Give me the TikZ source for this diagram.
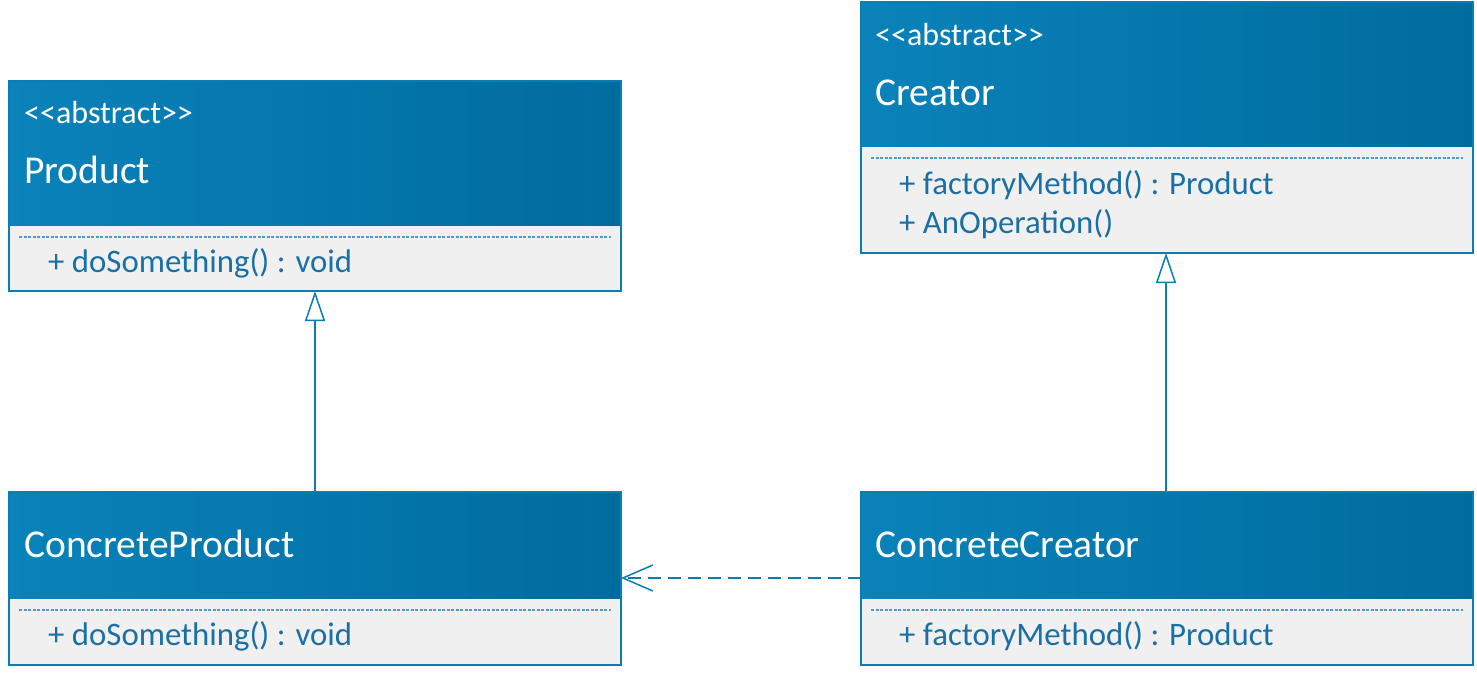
\documentclass[tikz,border=0pt]{standalone}
\usepackage{fontspec}
\setmainfont{Carlito}
\usetikzlibrary{arrows.meta}
\definecolor{hdrL}{HTML}{0A82BA}
\definecolor{hdrR}{HTML}{006C9E}
\definecolor{edgec}{HTML}{0A7DB4}
\definecolor{bodyfill}{HTML}{F0F0F0}
\definecolor{membertxt}{HTML}{1A70A4}
\definecolor{dotc}{HTML}{4E9DC6}
\tikzset{
  classbox/.style={rectangle, inner sep=0pt, outer sep=0pt, anchor=north west},
  hdrshade/.style={left color=hdrL, right color=hdrR},
  outline/.style={draw=edgec, line width=2.5pt},
  stereo/.style={text=white, font=\fontsize{32}{34}\selectfont, anchor=base west, inner sep=0pt},
  cname/.style={text=white, font=\fontsize{39.5}{42}\selectfont, anchor=base west, inner sep=0pt},
  member/.style={text=membertxt, font=\fontsize{32.8}{35}\selectfont, anchor=base west, inner sep=0pt},
  sepline/.style={dotc, line width=1.2pt, dash pattern=on 3pt off 1.5pt},
  inherit/.style={edgec, line width=1.5pt, -{Triangle[open, length=30pt, width=20pt, fill=white]}},
  depend/.style={edgec, line width=1.5pt, dash pattern=on 13pt off 7pt, -{Straight Barb[length=30pt, width=26pt]}}
}
\newcommand\stereotxt{<\kern0pt<abstract>\kern0pt>}
% #1 name, #2 x1, #3 y1, #4 x2, #5 y2, #6 header bottom, #7 separator y
\newcommand\umlclass[7]{%
  \node[classbox, minimum width=#4pt-#2pt, minimum height=#5pt-#3pt] (#1) at (#2,#3) {};
  \fill[bodyfill] (#2,#3) rectangle (#4,#5);
  \shade[hdrshade] (#2,#3) rectangle (#4,#6);
  \draw[outline] (#2,#3) rectangle (#4,#5);
  \draw[sepline] (#2+10,#7) -- (#4-10,#7);
}
\begin{document}
\begin{tikzpicture}[x=1pt,y=-1pt]
\useasboundingbox (0,0) rectangle (1477,672);
\umlclass{product}{9}{81}{621}{291}{225}{237}
\umlclass{creator}{861}{2}{1473}{253}{146}{158}
\umlclass{cproduct}{9}{492}{621}{665}{598}{610}
\umlclass{ccreator}{861}{492}{1473}{665}{598}{610}

\node[stereo] (pst) at (24,123) {\stereotxt};
\node[cname] (pnm) at (24,183) {Product};
\node[member] (pm1) at (48,272) {+ doSomething() : void};

\node[stereo] (cst) at (875,45) {\stereotxt};
\node[cname] (cnm) at (875,105) {Creator};
\node[member] (cm1) at (899,194) {+ factoryMethod() : Product};
\node[member] (cm2) at (899,233) {+ AnOperation()};

\node[cname] (cpnm) at (24,557) {ConcreteProduct};
\node[member] (cpm1) at (48,645) {+ doSomething() : void};

\node[cname] (ccnm) at (875,557) {ConcreteCreator};
\node[member] (ccm1) at (899,645) {+ factoryMethod() : Product};

\draw[inherit] (cproduct.north -| 315,0) -- (product.south -| 315,0);
\draw[inherit] (ccreator.north -| 1166,0) -- (creator.south -| 1166,0);
\draw[depend] (ccreator.west |- 0,578) -- (cproduct.east |- 0,578);
\end{tikzpicture}
\end{document}
